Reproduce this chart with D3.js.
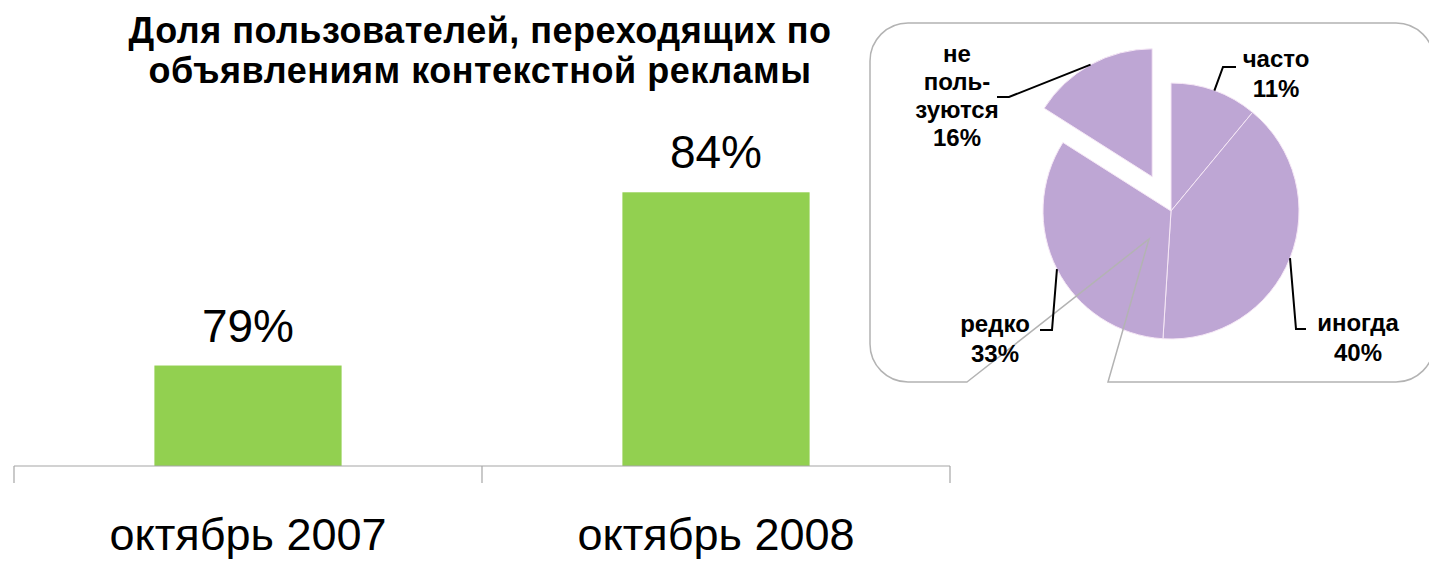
<!DOCTYPE html>
<html>
<head>
<meta charset="utf-8">
<script src="https://cdn.jsdelivr.net/npm/d3@7"></script>
<style>
  body { margin: 0; background: #fff; }
  svg { display: block; }
  text { font-family: "Liberation Sans", Arial, sans-serif; fill: #000; }
</style>
</head>
<body>
<svg id="chart" width="1429" height="561"></svg>
<script>
// ---- data ----
const periods = ["октябрь 2007", "октябрь 2008"];
const shareValues = [79, 84];
const titleLines = ["Доля пользователей, переходящих по", "объявлениям контекстной рекламы"];

const freqNames = ["часто", "иногда", "редко", "не пользуются"];
const freqLabelLines = [["часто"], ["иногда"], ["редко"], ["не", "поль-", "зуются"]];
const freqValues = [11, 40, 33, 16];
const explodedIndex = 3;

const yDomain = [76.1, 86];

// ---- layout ----
const svg = d3.select("#chart");
const plot = { left: 14, right: 950, baseline: 466, top: 123 };
const barColor = "#92d050";
const axisColor = "#a6a6a6";

// title
const title = svg.append("g")
  .attr("font-weight", "bold")
  .attr("font-size", 36)
  .attr("letter-spacing", 0.5);
titleLines.forEach((line, i) => {
  title.append("text")
    .attr("x", 480).attr("y", 43 + i * 40)
    .attr("text-anchor", "middle")
    .text(line);
});

// ---- bar chart ----
const x = d3.scaleBand().domain(periods).range([plot.left, plot.right]).paddingInner(0).paddingOuter(0);
const y = d3.scaleLinear().domain(yDomain).range([plot.baseline, plot.top]);
const bw = x.bandwidth();

svg.append("g").selectAll("rect")
  .data(periods)
  .join("rect")
  .attr("x", d => x(d) + bw * 0.3)
  .attr("width", bw * 0.4)
  .attr("y", (d, i) => y(shareValues[i]))
  .attr("height", (d, i) => y(yDomain[0]) - y(shareValues[i]))
  .attr("fill", barColor);

svg.append("g").selectAll("text")
  .data(periods)
  .join("text")
  .attr("x", d => x(d) + bw / 2)
  .attr("y", (d, i) => y(shareValues[i]) - 24)
  .attr("text-anchor", "middle")
  .attr("font-size", 46)
  .text((d, i) => shareValues[i] + "%");

// category axis: baseline with ticks at band edges
const axis = svg.append("g").attr("stroke", axisColor).attr("stroke-width", 1.2);
axis.append("line")
  .attr("x1", plot.left).attr("x2", plot.right)
  .attr("y1", y(yDomain[0])).attr("y2", y(yDomain[0]));
const tickXs = periods.map(d => x(d)).concat([x.range()[1]]);
axis.selectAll("line.tick")
  .data(tickXs)
  .join("line")
  .attr("class", "tick")
  .attr("x1", d => d).attr("x2", d => d)
  .attr("y1", y(yDomain[0])).attr("y2", y(yDomain[0]) + 17);

svg.append("g").selectAll("text")
  .data(periods)
  .join("text")
  .attr("x", d => x(d) + bw / 2)
  .attr("y", 550)
  .attr("text-anchor", "middle")
  .attr("font-size", 45)
  .text(d => d);

// ---- pie chart in a callout ----
const cx = 1171, cy = 211, r = 128, explode = 39;
const pieColor = "#bea6d4";

const arcs = d3.pie().sort(null).value(d => d)(freqValues);
const arcGen = d3.arc().innerRadius(0).outerRadius(r);
const offset = (a, i) => {
  if (i !== explodedIndex) return [0, 0];
  const m = (a.startAngle + a.endAngle) / 2;
  return [Math.sin(m) * explode, -Math.cos(m) * explode];
};

const pieG = svg.append("g").attr("transform", `translate(${cx},${cy})`);
pieG.selectAll("path")
  .data(arcs)
  .join("path")
  .attr("transform", (a, i) => `translate(${offset(a, i)})`)
  .attr("d", arcGen)
  .attr("fill", pieColor)
  .attr("stroke", "#f6e8f6")
  .attr("stroke-width", 1);

// callout frame with a wedge pointing into the pie
const box = { l: 870, t: 23, r: 1434, b: 382, rad: 38 };
const tip = [1149, 239], wedgeL = 967, wedgeR = 1108;
const frame = d3.path();
frame.moveTo(wedgeL, box.b);
frame.lineTo(tip[0], tip[1]);
frame.lineTo(wedgeR, box.b);
frame.lineTo(box.r - box.rad, box.b);
frame.arcTo(box.r, box.b, box.r, box.b - box.rad, box.rad);
frame.lineTo(box.r, box.t + box.rad);
frame.arcTo(box.r, box.t, box.r - box.rad, box.t, box.rad);
frame.lineTo(box.l + box.rad, box.t);
frame.arcTo(box.l, box.t, box.l, box.t + box.rad, box.rad);
frame.lineTo(box.l, box.b - box.rad);
frame.arcTo(box.l, box.b, box.l + box.rad, box.b, box.rad);
frame.closePath();
svg.append("path")
  .attr("d", frame.toString())
  .attr("fill", "none")
  .attr("stroke", "#b3b3b3")
  .attr("stroke-width", 1.5);

// slice labels with elbow leader lines
const labelLayout = [
  { x: 1276, y: 67, step: 30, elbow: [1223, 67], end: [1236, 67] },
  { x: 1358, y: 331, step: 30, elbow: [1296, 329], end: [1306, 329] },
  { x: 995, y: 332, step: 30, elbow: [1052, 330], end: [1040, 330] },
  { x: 957, y: 62, step: 28, elbow: [1009, 97], end: [997, 97] }
];

const leaders = svg.append("g").attr("fill", "none").attr("stroke", "#000").attr("stroke-width", 2);
arcs.forEach((a, i) => {
  const m = (a.startAngle + a.endAngle) / 2;
  const [ox, oy] = offset(a, i);
  const sx = cx + ox + Math.sin(m) * r;
  const sy = cy + oy - Math.cos(m) * r;
  const L = labelLayout[i];
  leaders.append("polyline")
    .attr("points", [[sx, sy], L.elbow, L.end].map(p => p.join(",")).join(" "));
});

const labels = svg.append("g").attr("font-weight", "bold").attr("font-size", 24).attr("text-anchor", "middle");
arcs.forEach((a, i) => {
  const L = labelLayout[i];
  const lines = freqLabelLines[i].concat([freqValues[i] + "%"]);
  const t = labels.append("text").attr("x", L.x).attr("y", L.y);
  lines.forEach((ln, k) => {
    t.append("tspan").attr("x", L.x).attr("y", L.y + k * L.step).text(ln);
  });
});
</script>
</body>
</html>
